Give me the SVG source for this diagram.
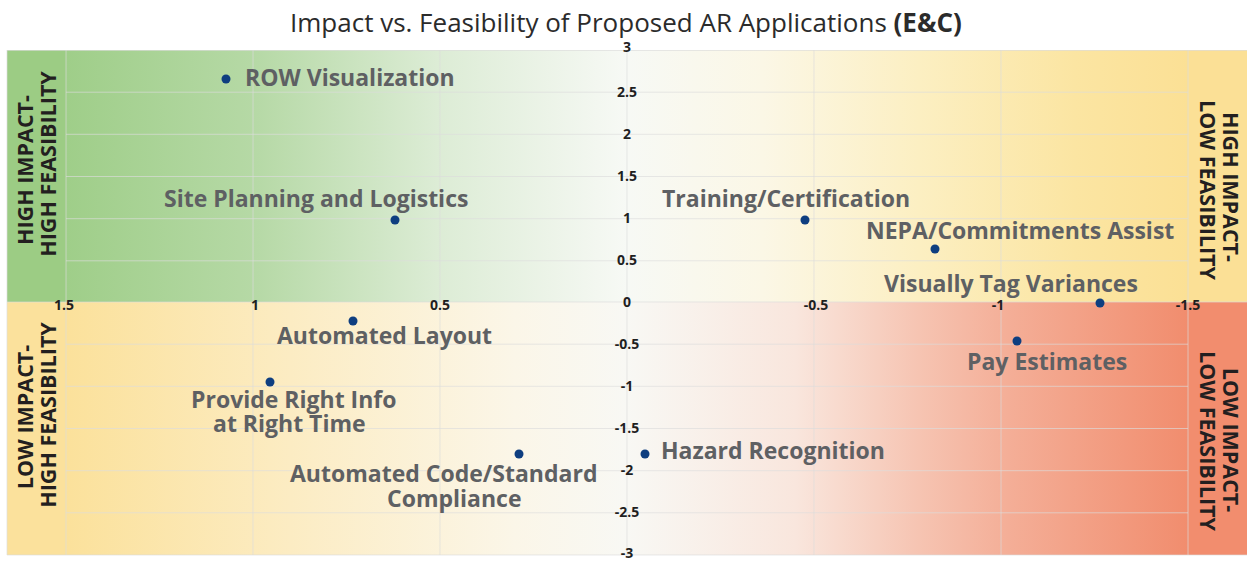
<svg xmlns="http://www.w3.org/2000/svg" width="1247" height="563" viewBox="0 0 1247 563">
  <defs>
    <linearGradient id="gTop" gradientUnits="userSpaceOnUse" x1="66" y1="0" x2="1188" y2="0">
      <stop offset="0" stop-color="#9fce89"/>
      <stop offset="0.17" stop-color="#b6d9a6"/>
      <stop offset="0.33" stop-color="#dcecd5"/>
      <stop offset="0.5" stop-color="#f7f9f5"/>
      <stop offset="0.62" stop-color="#fbf7e6"/>
      <stop offset="0.76" stop-color="#fcefc2"/>
      <stop offset="0.9" stop-color="#fbe5a2"/>
      <stop offset="1" stop-color="#fbe095"/>
    </linearGradient>
    <linearGradient id="gBot" gradientUnits="userSpaceOnUse" x1="66" y1="0" x2="1188" y2="0">
      <stop offset="0" stop-color="#fbe19b"/>
      <stop offset="0.2" stop-color="#fcecc3"/>
      <stop offset="0.4" stop-color="#fbf6e8"/>
      <stop offset="0.5" stop-color="#f8f8f4"/>
      <stop offset="0.65" stop-color="#f9e6dd"/>
      <stop offset="0.76" stop-color="#f6c4b2"/>
      <stop offset="0.84" stop-color="#f4ae97"/>
      <stop offset="1" stop-color="#f18d6e"/>
    </linearGradient>
    <style>
      .title { font-family: "Open Sans", "Liberation Sans", sans-serif; font-size: 26px; fill: #2b2b2b; }
      .grid { stroke: #dcdcdc; stroke-opacity: 0.65; stroke-width: 1; fill: none; }
      .tick { font-family: "Open Sans", "Liberation Sans", sans-serif; font-size: 14px; font-weight: 700; fill: #1f1f1f; text-anchor: middle; }
      .quad { font-family: "Open Sans", "Liberation Sans", sans-serif; font-size: 21.5px; font-weight: 700; fill: #231f20; text-anchor: middle; }
      .lbl { font-family: "Open Sans", "Liberation Sans", sans-serif; font-size: 23px; font-weight: 700; fill: #5e6063; }
      .dot { fill: #0e3e80; }
    </style>
  </defs>

  <rect x="0" y="0" width="1247" height="563" fill="#ffffff"/>

  <text class="title" x="290" y="32">Impact vs. Feasibility of Proposed AR Applications <tspan font-weight="700">(E&amp;C)</tspan></text>

  <g id="background">
    <rect x="7" y="50" width="59" height="252" fill="#9ccc84"/>
    <rect x="66" y="50" width="1122" height="252" fill="url(#gTop)"/>
    <rect x="1188" y="50" width="59" height="252" fill="#fbe096"/>
    <rect x="7" y="302" width="59" height="253" fill="#fbe19c"/>
    <rect x="66" y="302" width="1122" height="253" fill="url(#gBot)"/>
    <rect x="1188" y="302" width="59" height="253" fill="#f28d6e"/>
  </g>

  <g id="grid">
    <path class="grid" d="M7 50.5H1247 M66 92.2H1188 M66 134.3H1188 M66 176.5H1188 M66 218.7H1188 M66 260.8H1188 M7 302H1247 M66 344.2H1188 M66 386.3H1188 M66 428.5H1188 M66 470.7H1188 M66 512.8H1188 M7 555H1247"/>
    <path class="grid" d="M66 50V555 M253 50V555 M440 50V555 M627 50V555 M814 50V555 M1001 50V555 M1188 50V555 M7 50V555"/>
  </g>

  <g id="axis-labels">
    <text class="tick" x="627" y="52">3</text>
    <text class="tick" x="627" y="97">2.5</text>
    <text class="tick" x="627" y="139">2</text>
    <text class="tick" x="627" y="181">1.5</text>
    <text class="tick" x="627" y="223">1</text>
    <text class="tick" x="627" y="265">0.5</text>
    <text class="tick" x="627" y="307">0</text>
    <text class="tick" x="627" y="349">-0.5</text>
    <text class="tick" x="627" y="391">-1</text>
    <text class="tick" x="627" y="433">-1.5</text>
    <text class="tick" x="627" y="475">-2</text>
    <text class="tick" x="627" y="517">-2.5</text>
    <text class="tick" x="627" y="558">-3</text>
    <text class="tick" x="64" y="310">1.5</text>
    <text class="tick" x="255" y="310">1</text>
    <text class="tick" x="440" y="310">0.5</text>
    <text class="tick" x="816" y="310">-0.5</text>
    <text class="tick" x="998" y="310">-1</text>
    <text class="tick" x="1188" y="310">-1.5</text>
  </g>

  <g id="quadrant-hh">
    <text class="quad" transform="translate(33,167) rotate(-90)"><tspan x="-3" y="0">HIGH IMPACT-</tspan><tspan x="3" y="23">HIGH FEASIBILITY</tspan></text>
  </g>
  <g id="quadrant-hl">
    <text class="quad" transform="translate(1223,189) rotate(90)"><tspan x="-2" y="0">HIGH IMPACT-</tspan><tspan x="1" y="23">LOW FEASIBILITY</tspan></text>
  </g>
  <g id="quadrant-lh">
    <text class="quad" transform="translate(33,416) rotate(-90)"><tspan x="-1" y="0">LOW IMPACT-</tspan><tspan x="1" y="23">HIGH FEASIBILITY</tspan></text>
  </g>
  <g id="quadrant-ll">
    <text class="quad" transform="translate(1223,441) rotate(90)"><tspan x="-1" y="0">LOW IMPACT-</tspan><tspan x="0" y="23">LOW FEASIBILITY</tspan></text>
  </g>

  <g id="connectors"></g>

  <g id="p-row">
    <circle class="dot" cx="226" cy="79" r="4.5"/>
    <text class="lbl" x="245" y="86">ROW Visualization</text>
  </g>
  <g id="p-site">
    <circle class="dot" cx="395" cy="220" r="4.5"/>
    <text class="lbl" x="164" y="207">Site Planning and Logistics</text>
  </g>
  <g id="p-training">
    <circle class="dot" cx="805" cy="220" r="4.5"/>
    <text class="lbl" x="662" y="207">Training/Certification</text>
  </g>
  <g id="p-nepa">
    <circle class="dot" cx="935" cy="249" r="4.5"/>
    <text class="lbl" x="866" y="239">NEPA/Commitments Assist</text>
  </g>
  <g id="p-tag">
    <circle class="dot" cx="1100" cy="303" r="4.5"/>
    <text class="lbl" x="884" y="292">Visually Tag Variances</text>
  </g>
  <g id="p-layout">
    <circle class="dot" cx="353" cy="321" r="4.5"/>
    <text class="lbl" x="277" y="344">Automated Layout</text>
  </g>
  <g id="p-info">
    <circle class="dot" cx="270" cy="382" r="4.5"/>
    <text class="lbl" x="191" y="408">Provide Right Info</text>
    <text class="lbl" x="213" y="432">at Right Time</text>
  </g>
  <g id="p-code">
    <circle class="dot" cx="519" cy="454" r="4.5"/>
    <text class="lbl" x="290" y="482">Automated Code/Standard</text>
    <text class="lbl" x="387" y="507">Compliance</text>
  </g>
  <g id="p-hazard">
    <circle class="dot" cx="645" cy="454" r="4.5"/>
    <text class="lbl" x="661" y="459">Hazard Recognition</text>
  </g>
  <g id="p-pay">
    <circle class="dot" cx="1017" cy="341" r="4.5"/>
    <text class="lbl" x="967" y="370">Pay Estimates</text>
  </g>
</svg>
